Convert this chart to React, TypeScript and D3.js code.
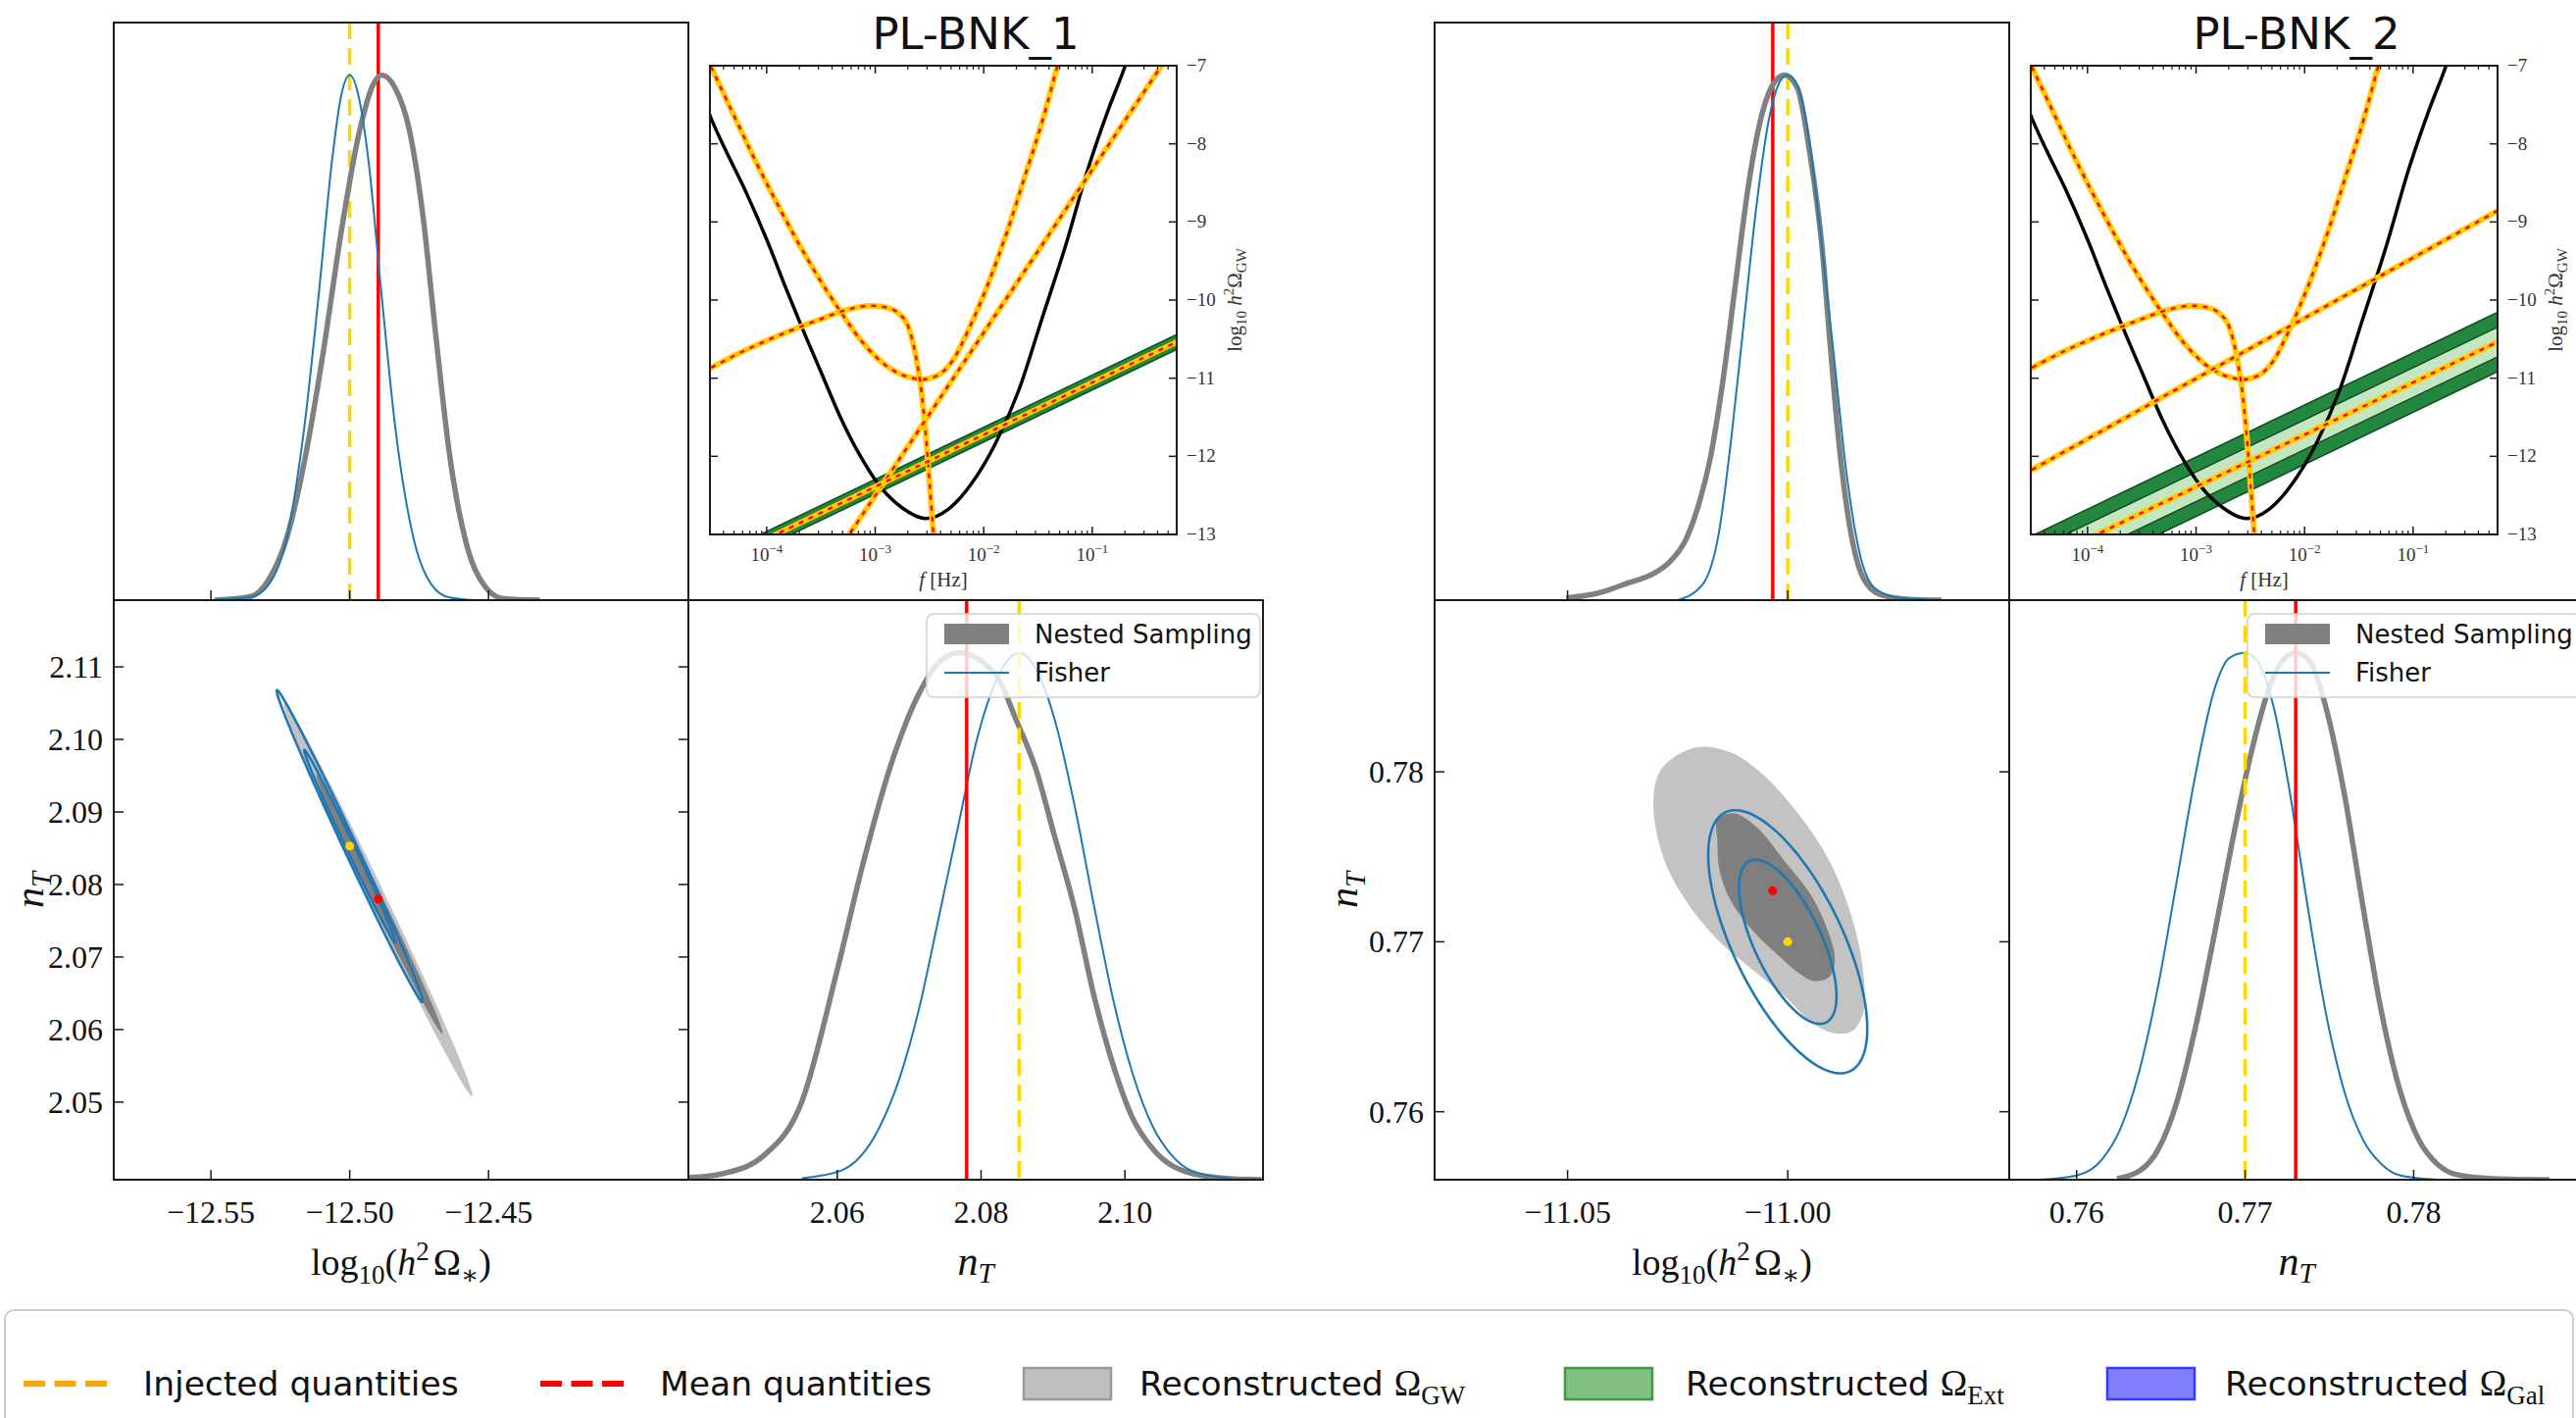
import React from "react";
import * as d3 from "d3";

type Pt = [number, number];

/* ============ PL-BNK_1 values ============ */
const bnk1Title = "PL-BNK_1";
const bnk1LogOmegaDomain: Pt = [-12.585, -12.378];
const bnk1NTDomain: Pt = [2.0393, 2.1192];
const bnk1LogOmegaTicks = [-12.55, -12.5, -12.45];
const bnk1NTTicks = [2.05, 2.06, 2.07, 2.08, 2.09, 2.1, 2.11];
const bnk1NTMarginalTicks = [2.06, 2.08, 2.1];
const bnk1Injected: Pt = [-12.5, 2.0853];
const bnk1Mean: Pt = [-12.4897, 2.078];

const bnk1NSLogOmega: Pt[] = [
  [-12.5486, 0], [-12.5356, 0.007], [-12.5291, 0.04], [-12.5226, 0.12], [-12.5161, 0.27],
  [-12.5096, 0.47], [-12.5031, 0.7], [-12.4966, 0.89], [-12.4917, 0.98], [-12.4885, 1.0],
  [-12.4836, 0.975], [-12.4787, 0.9], [-12.4738, 0.74], [-12.4689, 0.5], [-12.4641, 0.28],
  [-12.4576, 0.1], [-12.4511, 0.025], [-12.4446, 0.003], [-12.4315, 0],
];
const bnk1FisherLogOmega: Pt[] = [
  [-12.55, 0], [-12.5356, 0.006], [-12.5291, 0.03], [-12.5226, 0.12], [-12.5161, 0.34], [-12.5112, 0.58],
  [-12.5063, 0.84], [-12.5031, 0.96], [-12.5, 1.0], [-12.4966, 0.955], [-12.4933, 0.84],
  [-12.4885, 0.58], [-12.4836, 0.33], [-12.4771, 0.12], [-12.4706, 0.03], [-12.4641, 0.005], [-12.455, 0],
];
const bnk1NSNT: Pt[] = [
  [2.0394, 0.004], [2.0442, 0.012], [2.0497, 0.045], [2.0551, 0.149], [2.06, 0.398], [2.0637, 0.606],
  [2.0675, 0.789], [2.0713, 0.921], [2.0746, 0.988], [2.077, 1.0], [2.0822, 0.955], [2.0849, 0.872],
  [2.0876, 0.78], [2.0903, 0.648], [2.093, 0.515], [2.0957, 0.349], [2.0984, 0.216], [2.1011, 0.116],
  [2.1039, 0.058], [2.1093, 0.012], [2.1147, 0.002], [2.119, 0],
];
const bnk1FisherNT: Pt[] = [
  [2.0551, 0.003], [2.0605, 0.017], [2.0659, 0.1], [2.0686, 0.19], [2.0713, 0.32], [2.074, 0.49],
  [2.0768, 0.67], [2.0795, 0.84], [2.0822, 0.95], [2.0853, 1.0], [2.0876, 0.97], [2.0903, 0.87],
  [2.093, 0.71], [2.0957, 0.52], [2.0984, 0.34], [2.1011, 0.2], [2.1039, 0.1], [2.1066, 0.045],
  [2.1093, 0.017], [2.1147, 0.002],
];
// contour ellipses: [centre logΩ, centre nT, half-extent logΩ, half-extent nT, correlation]
const bnk1NSOuter = [-12.4898, 2.0779, 0.034, 0.0271, -0.995];
const bnk1NSInner = [-12.4893, 2.0773, 0.0228, 0.0179, -0.995];
const bnk1FisherOuter = [-12.5, 2.0853, 0.0263, 0.0215, -0.995];
const bnk1FisherInner = [-12.5, 2.0853, 0.0164, 0.01325, -0.995];

/* ============ PL-BNK_2 values ============ */
const bnk2Title = "PL-BNK_2";
const bnk2LogOmegaDomain: Pt = [-11.0802, -10.9497];
const bnk2NTDomain: Pt = [0.756, 0.7901];
const bnk2LogOmegaTicks = [-11.05, -11.0];
const bnk2NTTicks = [0.76, 0.77, 0.78];
const bnk2NTMarginalTicks = [0.76, 0.77, 0.78];
const bnk2Injected: Pt = [-11.0, 0.77];
const bnk2Mean: Pt = [-11.0034, 0.773];

const bnk2NSLogOmega: Pt[] = [
  [-11.0503, 0.004], [-11.0428, 0.014], [-11.0362, 0.033], [-11.0306, 0.05], [-11.0269, 0.072],
  [-11.0231, 0.116], [-11.0203, 0.18], [-11.0175, 0.274], [-11.0147, 0.419], [-11.0119, 0.6],
  [-11.0091, 0.78], [-11.0063, 0.91], [-11.0035, 0.98], [-11.0007, 1.0], [-10.9978, 0.975],
  [-10.995, 0.852], [-10.9922, 0.672], [-10.9904, 0.49], [-10.9885, 0.31], [-10.9857, 0.13],
  [-10.9829, 0.043], [-10.9791, 0.011], [-10.9726, 0.0015], [-10.9651, 0],
];
const bnk2FisherLogOmega: Pt[] = [
  [-11.025, 0], [-11.0194, 0.029], [-11.0156, 0.13], [-11.0128, 0.31], [-11.01, 0.527],
  [-11.0072, 0.744], [-11.0044, 0.91], [-11.0016, 0.99], [-11.0, 1.0], [-10.9978, 0.98],
  [-10.995, 0.87], [-10.9922, 0.67], [-10.9894, 0.455], [-10.9866, 0.238], [-10.9838, 0.094],
  [-10.9801, 0.022], [-10.9744, 0.004], [-10.9651, 0],
];
const bnk2NSNT: Pt[] = [
  [0.7624, 0.002], [0.76375, 0.017], [0.76485, 0.058], [0.76596, 0.149], [0.76706, 0.29],
  [0.76817, 0.465], [0.76927, 0.647], [0.77038, 0.813], [0.77148, 0.938], [0.77236, 0.99],
  [0.77303, 1.0], [0.77391, 0.98], [0.7748, 0.896], [0.7759, 0.73], [0.77701, 0.515],
  [0.77811, 0.315], [0.77922, 0.166], [0.78032, 0.075], [0.78143, 0.029], [0.78253, 0.01],
  [0.78474, 0.002], [0.78806, 0],
];
const bnk2FisherNT: Pt[] = [
  [0.75778, 0], [0.75999, 0.008], [0.76154, 0.04], [0.76264, 0.1], [0.76375, 0.21], [0.76485, 0.37],
  [0.76596, 0.57], [0.76706, 0.77], [0.76817, 0.93], [0.76905, 0.99], [0.77, 1.0], [0.77082, 0.98],
  [0.7717, 0.896], [0.77259, 0.747], [0.77369, 0.523], [0.7748, 0.315], [0.7759, 0.166],
  [0.77701, 0.075], [0.77811, 0.029], [0.77922, 0.008], [0.78143, 0],
];
const bnk2NSOuter: Pt[] = [
  [-11.0211, 0.78141], [-11.013, 0.78115], [-11.0058, 0.77987], [-10.9977, 0.77756], [-10.9905, 0.77474],
  [-10.9854, 0.77141], [-10.9829, 0.76833], [-10.9829, 0.76577], [-10.9854, 0.76474], [-10.9895, 0.76462],
  [-10.9946, 0.76526], [-11.0007, 0.76679], [-11.0079, 0.76833], [-11.016, 0.77013], [-11.0232, 0.77244],
  [-11.0283, 0.775], [-11.0305, 0.77808], [-11.0288, 0.78013],
];
const bnk2NSInner: Pt[] = [
  [-11.016, 0.77718], [-11.0124, 0.77756], [-11.0073, 0.7768], [-11.0007, 0.77474], [-10.9946, 0.77269],
  [-10.9905, 0.77038], [-10.9893, 0.76885], [-10.9905, 0.76795], [-10.9941, 0.76769], [-10.9977, 0.7682],
  [-11.0028, 0.76936], [-11.0079, 0.77064], [-11.013, 0.77244], [-11.0155, 0.77423], [-11.016, 0.77603],
];
const bnk2FisherOuter = [-11.0, 0.77, 0.01806, 0.00774, -0.66];
const bnk2FisherInner = [-11.0, 0.77, 0.01107, 0.00483, -0.66];

/* ============ inset spectra: [log10 f, log10 h^2 Omega] ============ */
const insetFreqDomain: Pt = [3e-5, 0.6];
const insetOmegaDomain: Pt = [-13, -7];
const insetOmegaTicks = [-13, -12, -11, -10, -9, -8, -7];
const insetFreqMajorTicks = [1e-4, 1e-3, 1e-2, 1e-1];
const insetSensitivity: Pt[] = [
  [-4.56, -7.5], [-4.518, -7.653], [-4.393, -8.04], [-4.214, -8.548], [-4.0, -9.225], [-3.821, -9.854],
  [-3.679, -10.338], [-3.5, -10.919], [-3.321, -11.499], [-3.143, -11.983], [-2.964, -12.37],
  [-2.75, -12.661], [-2.536, -12.796], [-2.321, -12.671], [-2.107, -12.337], [-1.893, -11.838],
  [-1.679, -11.161], [-1.464, -10.241], [-1.25, -9.322], [-1.036, -8.306], [-0.857, -7.581],
  [-0.696, -7.0], [-0.6, -6.6],
];
const insetNoise: Pt[] = [
  [-4.6, -6.76], [-4.518, -7.0], [-4.321, -7.581], [-4.107, -8.209], [-3.857, -8.887], [-3.607, -9.516],
  [-3.321, -10.145], [-3.107, -10.556], [-2.893, -10.846], [-2.679, -10.991], [-2.571, -11.016],
  [-2.429, -10.967], [-2.286, -10.774], [-2.143, -10.387], [-1.964, -9.806], [-1.786, -9.129],
  [-1.607, -8.355], [-1.464, -7.726], [-1.321, -7.0], [-1.28, -6.78],
];
const insetGalactic: Pt[] = [
  [-4.6, -10.93], [-4.518, -10.87], [-4.214, -10.653], [-3.857, -10.435], [-3.5, -10.242], [-3.25, -10.12],
  [-3.036, -10.072], [-2.893, -10.096], [-2.786, -10.169], [-2.696, -10.338], [-2.625, -10.725],
  [-2.571, -11.209], [-2.536, -11.693], [-2.5, -12.322], [-2.464, -13.0], [-2.446, -13.39],
];
const extCentre: Pt[] = [[-4.6, -13.457], [-0.2, -10.522]];
const bnk1Signal: Pt[] = [[-3.45, -13.44], [-0.3, -6.87]];
const bnk2Signal: Pt[] = [[-4.6, -12.24], [-0.2, -8.84]];
const bnk1ExtHalfWidths = [0.095, 0.035];
const bnk2ExtHalfWidths = [0.38, 0.19];

/* ============ legend labels ============ */
const marginalLegend = ["Nested Sampling", "Fisher"];
const figureLegend = [
  { kind: "dash", color: "#FFA500", label: "Injected quantities", sub: "" },
  { kind: "dash", color: "#FF0000", label: "Mean quantities", sub: "" },
  { kind: "patch", color: "grey", label: "Reconstructed ", sub: "GW" },
  { kind: "patch", color: "green", label: "Reconstructed ", sub: "Ext" },
  { kind: "patch", color: "blue", label: "Reconstructed ", sub: "Gal" },
];

/* ============ styling ============ */
const SERIF = "'Liberation Serif', 'DejaVu Serif', serif";
const SANS = "'DejaVu Sans', 'Noto Sans', sans-serif";
const AX = "#1a1a1a";
const GREY = "#808080";
const BLUE = "#1f77b4";
const GOLD = "#FFD700";
const RED = "#FF0000";
const LINE_GOLD = "#FFCC00";

function ellipsePts(e: number[]): Pt[] {
  const [cx, cy, hx, hy, r] = e;
  const s = Math.sqrt(1 - r * r);
  return d3.range(0, 360, 1.5).map((deg) => {
    const t = (deg * Math.PI) / 180;
    return [cx + hx * Math.cos(t), cy + hy * (r * Math.cos(t) + s * Math.sin(t))] as Pt;
  });
}

function Corner(p: any) {
  const colW = 586;
  const top = 23;
  const h1 = 589;
  const h2 = 591;
  const c1 = p.left;
  const c2 = p.left + colW;
  const r2 = top + h1;
  const bot = r2 + h2;
  const fmt = d3.format(".2f");

  const xS = d3.scaleLinear().domain(p.xDomain).range([c1, c2]);
  const yTop = d3.scaleLinear().domain([0, 1.1]).range([r2, top]);
  const y2D = d3.scaleLinear().domain(p.yDomain).range([bot, r2]);
  const xBR = d3.scaleLinear().domain(p.yDomain).range([c2, c2 + colW]);
  const yBR = d3.scaleLinear().domain([0, 1.1]).range([bot, r2]);

  const lineTL = d3.line<Pt>().x((d) => xS(d[0])).y((d) => yTop(d[1])).curve(d3.curveMonotoneX);
  const lineBR = d3.line<Pt>().x((d) => xBR(d[0])).y((d) => yBR(d[1])).curve(d3.curveMonotoneX);
  const closedSmooth = d3.line<Pt>().x((d) => xS(d[0])).y((d) => y2D(d[1])).curve(d3.curveCatmullRomClosed.alpha(0.5));
  const closedLin = d3.line<Pt>().x((d) => xS(d[0])).y((d) => y2D(d[1])).curve(d3.curveLinearClosed);
  const shape = (s: any) => (s.length && Array.isArray(s[0]) ? closedSmooth(s as Pt[]) : closedLin(ellipsePts(s as number[])));

  // inset
  const iL = c2 + 22;
  const iT = 67;
  const iW = 476;
  const iH = 478;
  const fx = d3.scaleLog().domain(insetFreqDomain).range([iL, iL + iW]);
  const fy = d3.scaleLinear().domain(insetOmegaDomain).range([iT + iH, iT]);
  const spec = d3.line<Pt>().x((d) => fx(Math.pow(10, d[0]))).y((d) => fy(d[1])).curve(d3.curveMonotoneX);
  const poly = d3.line<Pt>().x((d) => fx(Math.pow(10, d[0]))).y((d) => fy(d[1]));
  const bandPath = (hw: number) => {
    const [a, b] = extCentre;
    return poly([[a[0], a[1] + hw], [b[0], b[1] + hw], [b[0], b[1] - hw], [a[0], a[1] - hw]]) + "Z";
  };
  const minorTicks = d3
    .range(-5, 0)
    .flatMap((e) => d3.range(2, 10).map((k) => k * Math.pow(10, e)))
    .filter((v) => v > insetFreqDomain[0] && v < insetFreqDomain[1]);

  const goldRed = (pts: Pt[], key: string) => (
    <g key={key}>
      <path d={spec(pts)!} fill="none" stroke={LINE_GOLD} strokeWidth={6} />
      <path d={spec(pts)!} fill="none" stroke={RED} strokeWidth={2.4} strokeDasharray="5 6" />
    </g>
  );

  const vlines = (x: number, yA: number, yB: number, key: string, gold: boolean) =>
    gold ? (
      <line key={key} x1={x} x2={x} y1={yA} y2={yB} stroke={GOLD} strokeWidth={3.5} strokeDasharray="17 9" />
    ) : (
      <line key={key} x1={x} x2={x} y1={yA} y2={yB} stroke={RED} strokeWidth={3.5} />
    );

  const tl = `${p.id}-tl`;
  const c2d = `${p.id}-c2d`;
  const br = `${p.id}-br`;
  const ins = `${p.id}-ins`;
  const legL = c2 + 243;
  const legT = 626;

  return (
    <g>
      <defs>
        <clipPath id={tl}><rect x={c1} y={top} width={colW} height={h1} /></clipPath>
        <clipPath id={c2d}><rect x={c1} y={r2} width={colW} height={h2} /></clipPath>
        <clipPath id={br}><rect x={c2} y={r2} width={colW} height={h2} /></clipPath>
        <clipPath id={ins}><rect x={iL} y={iT} width={iW} height={iH} /></clipPath>
      </defs>

      {/* ---- top-left marginal ---- */}
      <g clipPath={`url(#${tl})`}>
        {vlines(xS(p.injected[0]), top, r2, "ti", true)}
        {vlines(xS(p.mean[0]), top, r2, "tm", false)}
        <path d={lineTL(p.nsX)!} fill="none" stroke={GREY} strokeWidth={5.5} strokeLinejoin="round" />
        <path d={lineTL(p.fisherX)!} fill="none" stroke={BLUE} strokeWidth={2} />
      </g>
      {p.xTicks.map((t: number) => (
        <line key={"tt" + t} x1={xS(t)} x2={xS(t)} y1={r2} y2={r2 - 10} stroke={AX} strokeWidth={1.5} />
      ))}
      <rect x={c1} y={top} width={colW} height={h1} fill="none" stroke={AX} strokeWidth={2} />

      {/* ---- 2D panel ---- */}
      <g clipPath={`url(#${c2d})`}>
        <path d={shape(p.nsOuter)!} fill="#c3c3c3" />
        <path d={shape(p.nsInner)!} fill="#7f7f7f" />
        <path d={shape(p.fisherOuter)!} fill="none" stroke={BLUE} strokeWidth={2.6} />
        <path d={shape(p.fisherInner)!} fill="none" stroke={BLUE} strokeWidth={2.6} />
        <circle cx={xS(p.injected[0])} cy={y2D(p.injected[1])} r={4.5} fill={GOLD} />
        <circle cx={xS(p.mean[0])} cy={y2D(p.mean[1])} r={4.5} fill={RED} />
      </g>
      {p.xTicks.map((t: number) => (
        <g key={"bx" + t}>
          <line x1={xS(t)} x2={xS(t)} y1={bot} y2={bot - 10} stroke={AX} strokeWidth={1.5} />
          <text x={xS(t)} y={bot + 44} textAnchor="middle" fontFamily={SERIF} fontSize={32} fill="#111">{fmt(t)}</text>
        </g>
      ))}
      {p.yTicks.map((t: number) => (
        <g key={"by" + t}>
          <line x1={c1} x2={c1 + 10} y1={y2D(t)} y2={y2D(t)} stroke={AX} strokeWidth={1.5} />
          <line x1={c2} x2={c2 - 10} y1={y2D(t)} y2={y2D(t)} stroke={AX} strokeWidth={1.5} />
          <text x={c1 - 11} y={y2D(t) + 11} textAnchor="end" fontFamily={SERIF} fontSize={32} fill="#111">{fmt(t)}</text>
        </g>
      ))}
      <rect x={c1} y={r2} width={colW} height={h2} fill="none" stroke={AX} strokeWidth={2} />
      <text transform={`translate(${p.yLabelX},${(r2 + bot) / 2}) rotate(-90)`} textAnchor="middle" fontFamily={SERIF} fontSize={42} fill="#111">
        <tspan fontStyle="italic">n</tspan>
        <tspan fontStyle="italic" fontSize={29} dy={8}>T</tspan>
      </text>
      <text x={(c1 + c2) / 2} y={1300} textAnchor="middle" fontFamily={SERIF} fontSize={38} fill="#111">
        log<tspan fontSize={27} dy={9}>10</tspan>
        <tspan dy={-9}>(</tspan>
        <tspan fontStyle="italic">h</tspan>
        <tspan fontSize={27} dy={-15}>2</tspan>
        <tspan dy={15} dx={4}>Ω</tspan>
        <tspan fontSize={27} dy={9}>∗</tspan>
        <tspan dy={-9}>)</tspan>
      </text>

      {/* ---- bottom-right marginal ---- */}
      <g clipPath={`url(#${br})`}>
        <path d={lineBR(p.nsY)!} fill="none" stroke={GREY} strokeWidth={5.5} strokeLinejoin="round" />
        <path d={lineBR(p.fisherY)!} fill="none" stroke={BLUE} strokeWidth={2} />
        {vlines(xBR(p.mean[1]), r2, bot, "bm", false)}
        {vlines(xBR(p.injected[1]), r2, bot, "bi", true)}
        <g>
          <rect x={legL} y={legT} width={340} height={85} rx={7} fill="#fff" fillOpacity={0.8} stroke="#cfcfcf" strokeWidth={1.5} />
          <rect x={legL + 18} y={legT + 10} width={66} height={21} fill={GREY} />
          <text x={legL + 110} y={legT + 21} dominantBaseline="central" fontFamily={SANS} fontSize={26} fill="#111">{marginalLegend[0]}</text>
          <line x1={legL + 18} x2={legL + 84} y1={legT + 60} y2={legT + 60} stroke={BLUE} strokeWidth={2} />
          <text x={legL + 110} y={legT + 60} dominantBaseline="central" fontFamily={SANS} fontSize={26} fill="#111">{marginalLegend[1]}</text>
        </g>
      </g>
      {p.yMargTicks.map((t: number) => (
        <g key={"mx" + t}>
          <line x1={xBR(t)} x2={xBR(t)} y1={bot} y2={bot - 10} stroke={AX} strokeWidth={1.5} />
          <text x={xBR(t)} y={bot + 44} textAnchor="middle" fontFamily={SERIF} fontSize={32} fill="#111">{fmt(t)}</text>
        </g>
      ))}
      <rect x={c2} y={r2} width={colW} height={h2} fill="none" stroke={AX} strokeWidth={2} />
      <text x={(c2 + c2 + colW) / 2} y={1300} textAnchor="middle" fontFamily={SERIF} fontSize={42} fill="#111">
        <tspan fontStyle="italic">n</tspan>
        <tspan fontStyle="italic" fontSize={29} dy={8}>T</tspan>
      </text>

      {/* ---- title + inset ---- */}
      <text x={c2 + colW / 2} y={50} textAnchor="middle" fontFamily={SANS} fontSize={45} fill="#111">{p.title}</text>
      <rect x={iL} y={iT} width={iW} height={iH} fill="#fff" />
      <g clipPath={`url(#${ins})`}>
        <path d={bandPath(p.band[0])} fill="#23873f" stroke="#0f4d22" strokeWidth={1.5} />
        <path d={bandPath(p.band[1])} fill="#c4e6c0" stroke="#0f4d22" strokeWidth={1.5} />
        <path d={spec(insetSensitivity)!} fill="none" stroke="#000" strokeWidth={3.5} />
        {goldRed(insetNoise, "n")}
        {goldRed(insetGalactic, "g")}
        {goldRed(p.signal, "s")}
        {goldRed(extCentre, "e")}
      </g>
      {insetFreqMajorTicks.map((t) => (
        <g key={"im" + t}>
          <line x1={fx(t)} x2={fx(t)} y1={iT + iH} y2={iT + iH - 8} stroke={AX} strokeWidth={1.5} />
          <line x1={fx(t)} x2={fx(t)} y1={iT} y2={iT + 8} stroke={AX} strokeWidth={1.5} />
          <text x={fx(t)} y={iT + iH + 27} textAnchor="middle" fontFamily={SERIF} fontSize={19} fill="#333">
            10<tspan fontSize={13} dy={-8}>{"−" + Math.round(-Math.log10(t))}</tspan>
          </text>
        </g>
      ))}
      {minorTicks.map((t) => (
        <g key={"in" + t}>
          <line x1={fx(t)} x2={fx(t)} y1={iT + iH} y2={iT + iH - 4} stroke={AX} strokeWidth={1.2} />
          <line x1={fx(t)} x2={fx(t)} y1={iT} y2={iT + 4} stroke={AX} strokeWidth={1.2} />
        </g>
      ))}
      {insetOmegaTicks.map((t) => (
        <g key={"iy" + t}>
          <line x1={iL} x2={iL + 8} y1={fy(t)} y2={fy(t)} stroke={AX} strokeWidth={1.5} />
          <line x1={iL + iW} x2={iL + iW - 8} y1={fy(t)} y2={fy(t)} stroke={AX} strokeWidth={1.5} />
          <text x={iL + iW + 10} y={fy(t) + 6} textAnchor="start" fontFamily={SERIF} fontSize={19} fill="#333">{"−" + Math.abs(t)}</text>
        </g>
      ))}
      <rect x={iL} y={iT} width={iW} height={iH} fill="none" stroke={AX} strokeWidth={2} />
      <text x={iL + iW / 2} y={iT + iH + 53} textAnchor="middle" fontFamily={SERIF} fontSize={21} fill="#333">
        <tspan fontStyle="italic">f</tspan> [Hz]
      </text>
      <text transform={`translate(${iL + iW + 66},${iT + iH / 2}) rotate(-90)`} textAnchor="middle" fontFamily={SERIF} fontSize={21} fill="#333">
        log<tspan fontSize={15} dy={5}>10</tspan>
        <tspan dy={-5} fontStyle="italic"> h</tspan>
        <tspan fontSize={15} dy={-8}>2</tspan>
        <tspan dy={8}>Ω</tspan>
        <tspan fontSize={15} dy={5}>GW</tspan>
      </text>
    </g>
  );
}

function FigureLegend() {
  const cy = 1411;
  const xs = [24, 551, 1044, 1596, 2149];
  const textX = [146, 673, 1162, 1719, 2269];
  const patchFill: Record<string, [string, string]> = {
    grey: ["#bfbfbf", "#9a9a9a"],
    green: ["#80c080", "#3d9a3d"],
    blue: ["#8080ff", "#3a3aff"],
  };
  return (
    <g>
      <rect x={5} y={1336} width={2619} height={140} rx={9} fill="#fff" stroke="#cccccc" strokeWidth={2} />
      {figureLegend.map((e, i) => (
        <g key={e.label + i}>
          {e.kind === "dash" ? (
            <line x1={xs[i]} x2={xs[i] + 85} y1={cy} y2={cy} stroke={e.color} strokeWidth={6} strokeDasharray="22 9.5" />
          ) : (
            <rect x={xs[i]} y={cy - 16} width={89} height={32} fill={patchFill[e.color][0]} stroke={patchFill[e.color][1]} strokeWidth={2.5} />
          )}
          <text x={textX[i]} y={cy + 12} fontFamily={SANS} fontSize={34.5} fill="#111">
            {e.label}
            {e.sub ? <tspan fontFamily={SERIF} fontSize={37}>Ω</tspan> : null}
            {e.sub ? <tspan fontFamily={SERIF} fontSize={27} dy={9}>{e.sub}</tspan> : null}
          </text>
        </g>
      ))}
    </g>
  );
}

export default function App() {
  return (
    <svg width={2627} height={1446} viewBox="0 0 2627 1446" style={{ position: "absolute", left: 0, top: 0, display: "block" }}>
      <rect x={0} y={0} width={2627} height={1446} fill="#fff" />
      <Corner
        id="b1" left={116} title={bnk1Title} yLabelX={44}
        xDomain={bnk1LogOmegaDomain} yDomain={bnk1NTDomain}
        xTicks={bnk1LogOmegaTicks} yTicks={bnk1NTTicks} yMargTicks={bnk1NTMarginalTicks}
        injected={bnk1Injected} mean={bnk1Mean}
        nsX={bnk1NSLogOmega} fisherX={bnk1FisherLogOmega} nsY={bnk1NSNT} fisherY={bnk1FisherNT}
        nsOuter={bnk1NSOuter} nsInner={bnk1NSInner} fisherOuter={bnk1FisherOuter} fisherInner={bnk1FisherInner}
        signal={bnk1Signal} band={bnk1ExtHalfWidths}
      />
      <Corner
        id="b2" left={1463} title={bnk2Title} yLabelX={1384}
        xDomain={bnk2LogOmegaDomain} yDomain={bnk2NTDomain}
        xTicks={bnk2LogOmegaTicks} yTicks={bnk2NTTicks} yMargTicks={bnk2NTMarginalTicks}
        injected={bnk2Injected} mean={bnk2Mean}
        nsX={bnk2NSLogOmega} fisherX={bnk2FisherLogOmega} nsY={bnk2NSNT} fisherY={bnk2FisherNT}
        nsOuter={bnk2NSOuter} nsInner={bnk2NSInner} fisherOuter={bnk2FisherOuter} fisherInner={bnk2FisherInner}
        signal={bnk2Signal} band={bnk2ExtHalfWidths}
      />
      <FigureLegend />
    </svg>
  );
}
